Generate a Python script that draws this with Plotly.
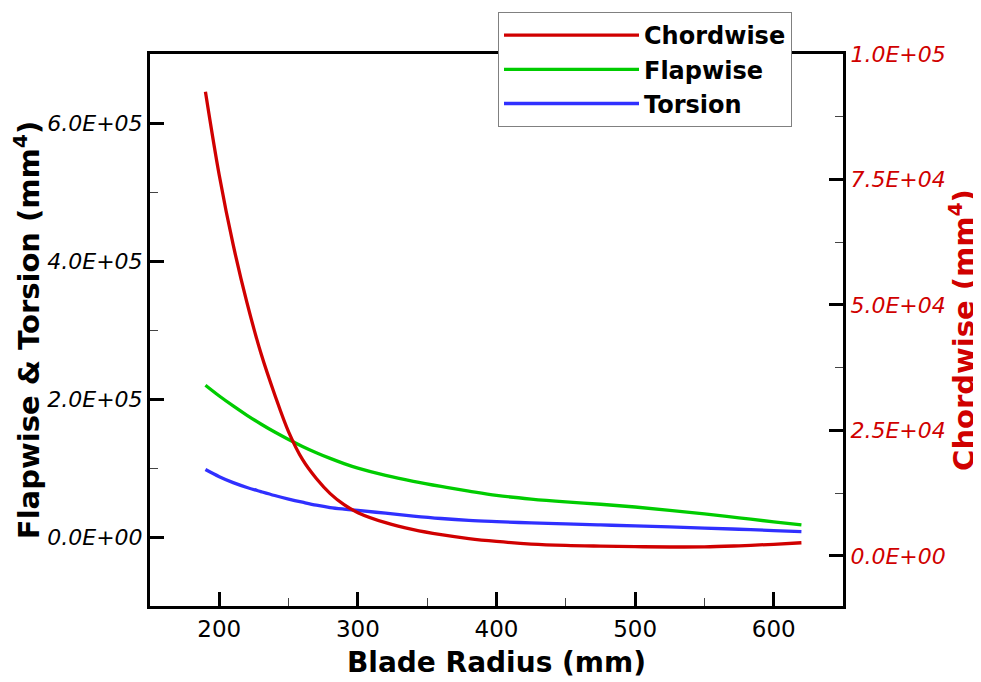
import plotly.graph_objects as go

# ---- data ----
radius = [190, 200, 210, 220, 230, 240, 250, 260, 270, 280, 290, 300, 320, 340,
          360, 380, 400, 425, 450, 475, 500, 525, 550, 575, 600, 620]
chordwise = [92500, 75800, 62000, 50400, 40400, 32100, 24700, 19200, 15400, 12400,
             10200, 8600, 6600, 5200, 4200, 3430, 2870, 2350, 2070, 1930, 1830,
             1760, 1780, 2000, 2300, 2600]
flapwise = [220000, 204400, 190000, 176400, 163800, 152100, 141300, 131300, 122200,
            113900, 106400, 99800, 89200, 80600, 73200, 66500, 60300, 55000, 50900,
            47500, 43500, 38700, 33400, 27700, 22000, 17700]
torsion = [97800, 87400, 78800, 71800, 65800, 60100, 55000, 50400, 46100, 42700,
           40400, 38500, 34500, 30300, 26800, 24100, 22300, 20400, 18900, 17500,
           16100, 14600, 13000, 11200, 9300, 7700]

x_ticks = [200, 300, 400, 500, 600]
x_minor = [250, 350, 450, 550]
left_ticks = [0, 200000, 400000, 600000]
left_labels = ["0.0E+00", "2.0E+05", "4.0E+05", "6.0E+05"]
left_minor = [100000, 300000, 500000]
right_ticks = [0, 25000, 50000, 75000, 100000]
right_labels = ["0.0E+00", "2.5E+04", "5.0E+04", "7.5E+04", "1.0E+05"]
right_minor = [12500, 37500, 62500, 87500]

RED = "#d00000"
GREEN = "#00cc00"
BLUE = "#3030ff"
FONT = "DejaVu Sans"

fig = go.Figure()
fig.add_trace(go.Scatter(x=radius, y=chordwise, name="Chordwise", yaxis="y2",
                         mode="lines", line=dict(color=RED, width=3.3, shape="spline")))
fig.add_trace(go.Scatter(x=radius, y=flapwise, name="Flapwise", yaxis="y",
                         mode="lines", line=dict(color=GREEN, width=3.3, shape="spline")))
fig.add_trace(go.Scatter(x=radius, y=torsion, name="Torsion", yaxis="y",
                         mode="lines", line=dict(color=BLUE, width=3.3, shape="spline")))

fig.update_layout(
    width=973, height=674,
    margin=dict(l=142, r=138, t=46, b=76, autoexpand=False),
    paper_bgcolor="white", plot_bgcolor="white",
    font=dict(family=FONT, color="black"),
    xaxis=dict(
        range=[150, 650], showgrid=False, zeroline=False,
        showline=True, linewidth=3, linecolor="black", mirror=True,
        tickmode="array", tickvals=x_ticks,
        ticks="inside", ticklen=14, tickwidth=3, tickcolor="black",
        minor=dict(tickmode="array", tickvals=x_minor, ticks="inside",
                   ticklen=8, tickwidth=1, tickcolor="#444"),
        tickfont=dict(family=FONT, size=23, color="black"),
        title=dict(text="Blade Radius (mm)", standoff=12,
                   font=dict(family=FONT, size=28, color="black", weight="bold")),
    ),
    yaxis=dict(
        range=[-100000, 700000], showgrid=False, zeroline=False,
        showline=True, linewidth=3, linecolor="black",
        tickmode="array", tickvals=left_ticks, ticktext=left_labels,
        ticks="inside", ticklen=14, tickwidth=3, tickcolor="black",
        minor=dict(tickmode="array", tickvals=left_minor, ticks="inside",
                   ticklen=8, tickwidth=1, tickcolor="#444"),
        tickfont=dict(family=FONT, size=22, color="black", style="italic"),
        title=dict(text="Flapwise & Torsion (mm<sup>4</sup>)", standoff=2,
                   font=dict(family=FONT, size=29, color="black", weight="bold")),
    ),
    yaxis2=dict(
        range=[-10000, 100000], overlaying="y", side="right", anchor="x",
        showgrid=False, zeroline=False,
        showline=True, linewidth=3, linecolor="black",
        tickmode="array", tickvals=right_ticks, ticktext=right_labels,
        ticks="inside", ticklen=14, tickwidth=3, tickcolor="black",
        minor=dict(tickmode="array", tickvals=right_minor, ticks="inside",
                   ticklen=8, tickwidth=1, tickcolor="#444"),
        tickfont=dict(family=FONT, size=22, color=RED, style="italic"),
        title=dict(text="Chordwise (mm<sup>4</sup>)", standoff=2,
                   font=dict(family=FONT, size=29, color=RED, weight="bold")),
    ),
    legend=dict(
        x=(498 - 150) / 693, y=(606 - 12) / 552, xanchor="left", yanchor="top",
        bgcolor="white", bordercolor="#808080", borderwidth=1,
        font=dict(family=FONT, size=24, color="black", weight="bold"),
        itemwidth=135, tracegroupgap=0,
    ),
    showlegend=True,
)

fig.write_html("out.html")
